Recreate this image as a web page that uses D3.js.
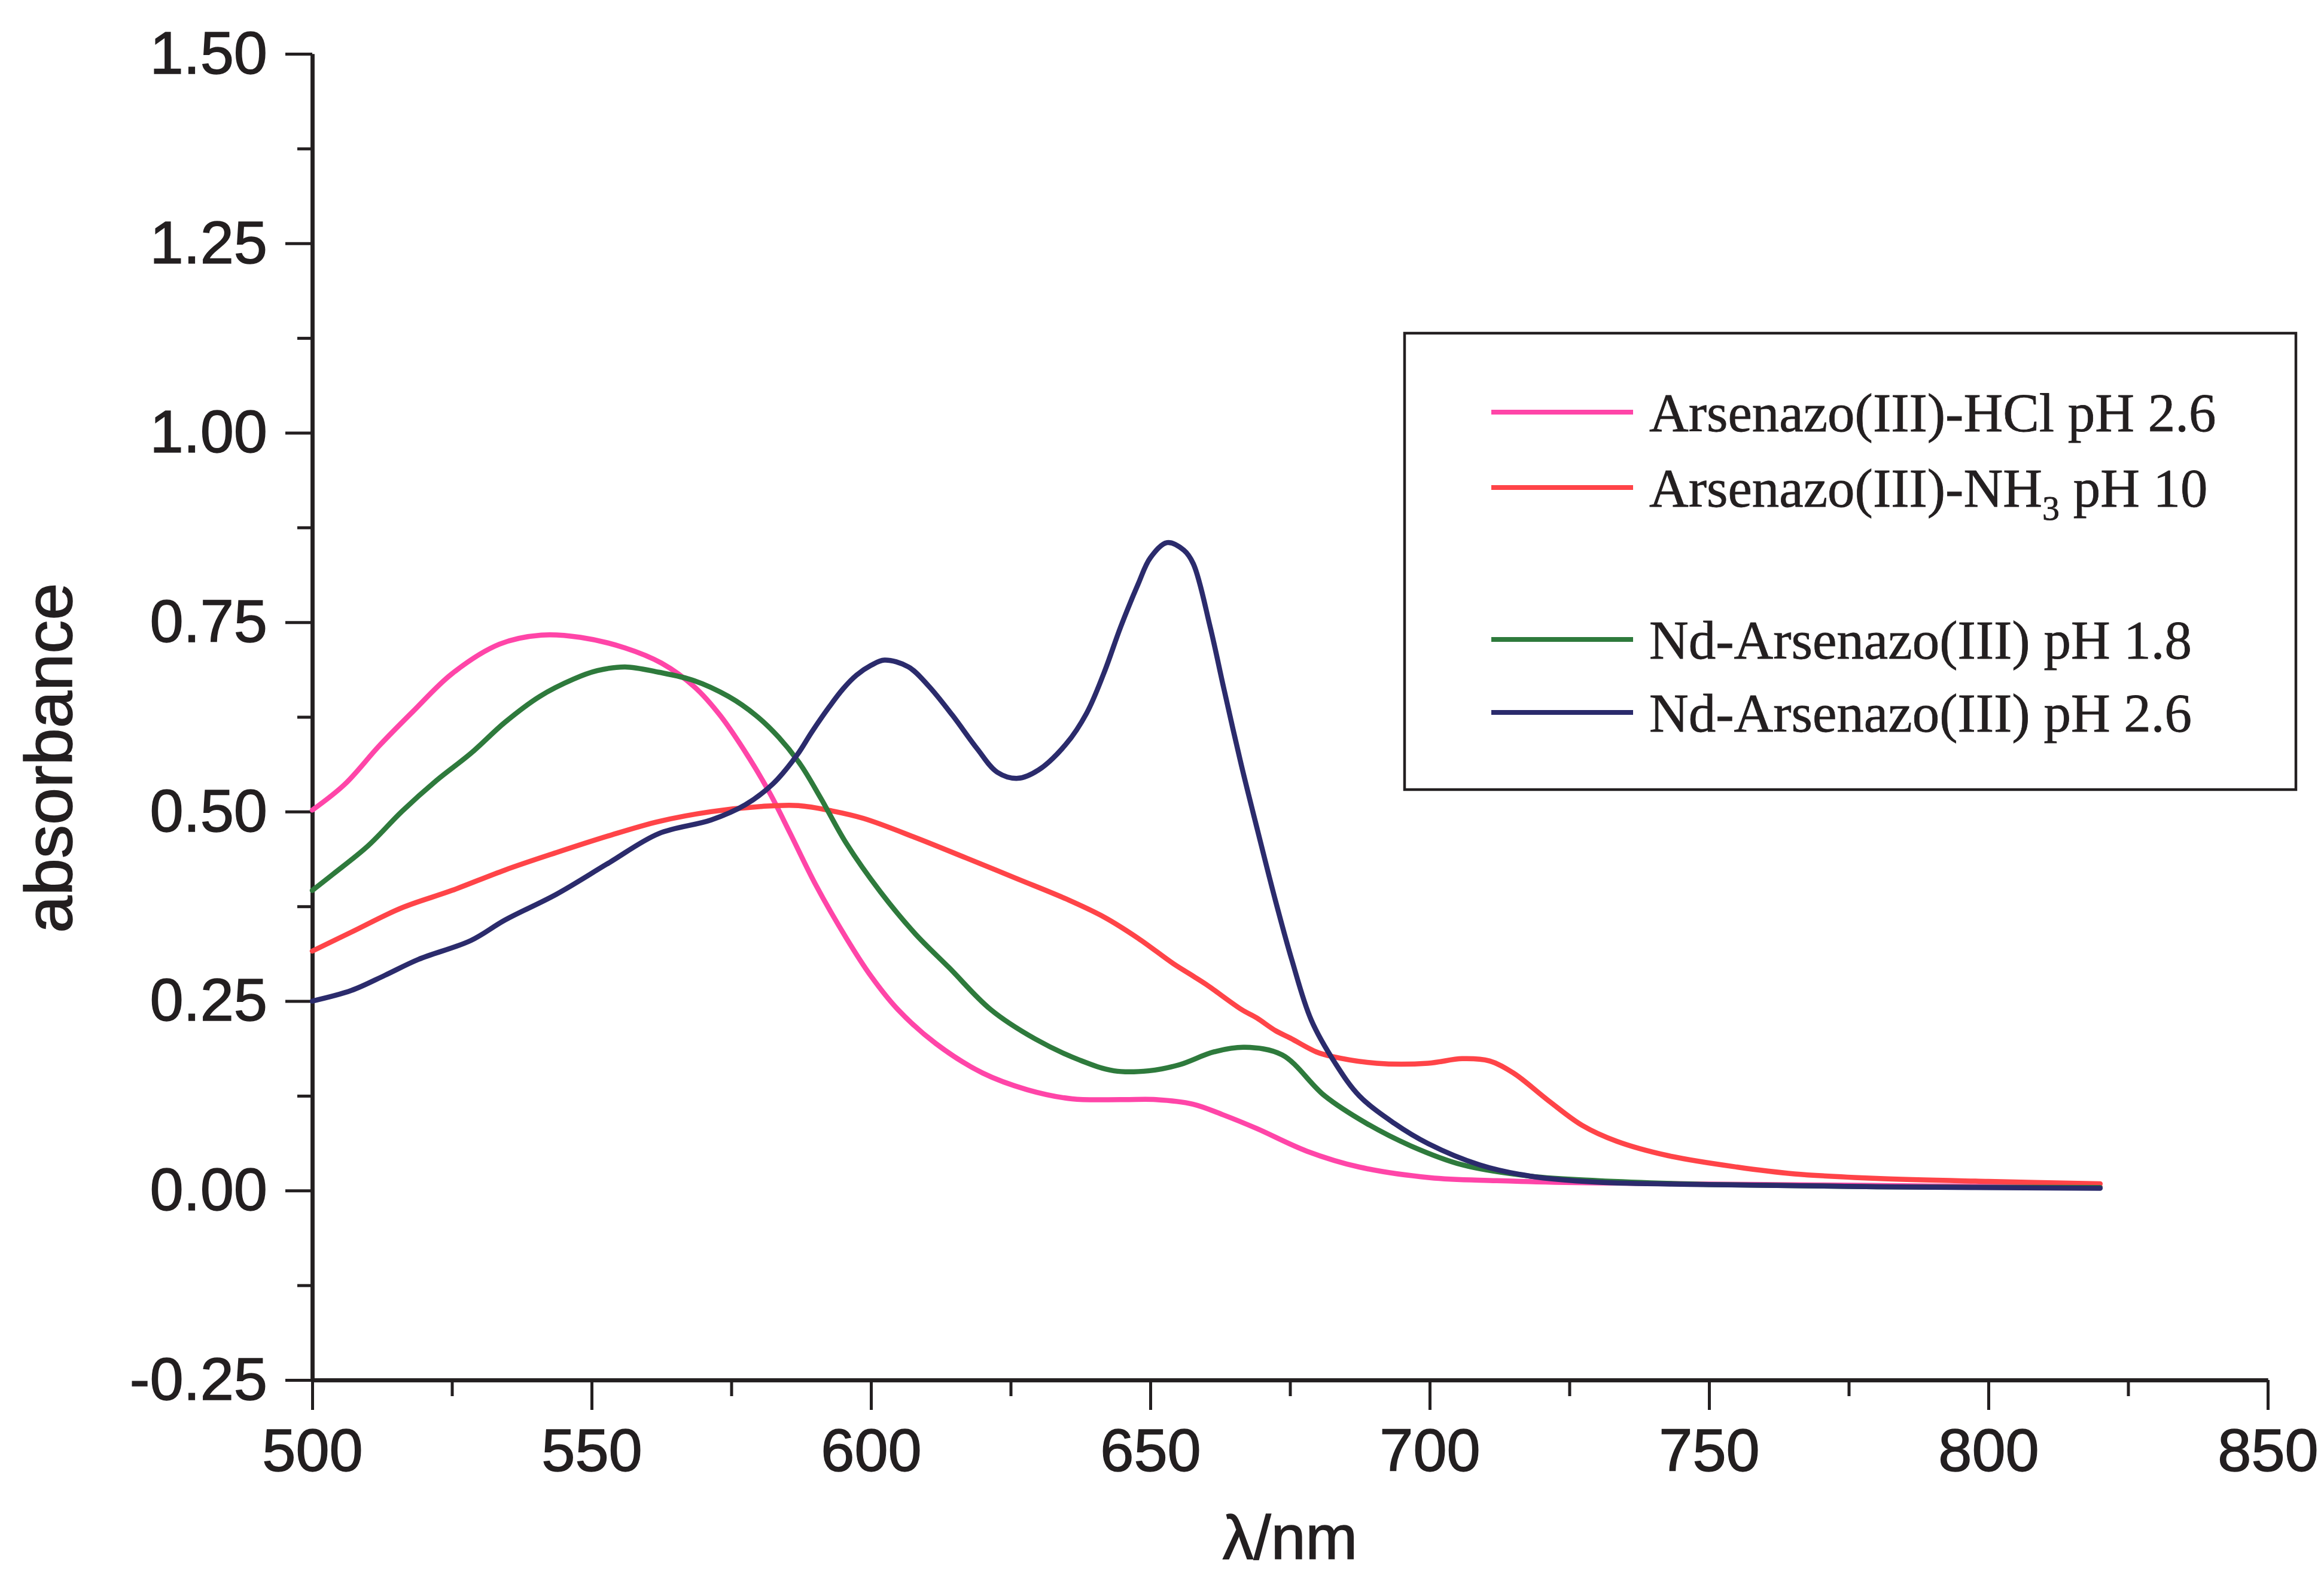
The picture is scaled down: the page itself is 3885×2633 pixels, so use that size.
<!DOCTYPE html>
<html>
<head>
<meta charset="utf-8">
<script src="https://cdn.jsdelivr.net/npm/d3@7"></script>
<style>
  html, body { margin: 0; padding: 0; background: #ffffff; }
  svg { display: block; }
</style>
</head>
<body>
<svg id="chart" width="3885" height="2633"></svg>
<script>
// Absorption spectra: [wavelength (nm), absorbance]
const hclPH26 = [
  [500, 0.502], [505.8, 0.536], [512, 0.587], [518, 0.632], [525, 0.682], [533.5, 0.721],
  [541, 0.733], [548, 0.730], [556, 0.716], [562.5, 0.696], [568.5, 0.664], [573, 0.627],
  [578, 0.573], [582, 0.523], [585.5, 0.472], [590, 0.405], [595.6, 0.333], [600, 0.283],
  [604.8, 0.239], [611.6, 0.194], [620, 0.155], [628, 0.133], [636, 0.121], [645, 0.120],
  [651, 0.120], [657.6, 0.114], [663, 0.100], [669, 0.082], [678, 0.052], [687.4, 0.031],
  [700, 0.017], [712, 0.013], [730, 0.010], [760, 0.008], [790, 0.006], [820, 0.005]
];
const nh3PH10 = [
  [500, 0.316], [507, 0.341], [516, 0.373], [525, 0.396], [534.5, 0.423], [543.7, 0.446],
  [553, 0.468], [562, 0.487], [571.4, 0.500], [580.6, 0.507], [587, 0.508], [593, 0.501],
  [598.7, 0.491], [607.9, 0.466], [617, 0.439], [626.3, 0.411], [635.5, 0.383], [641.7, 0.361],
  [647.8, 0.333], [654, 0.300], [657, 0.286], [660, 0.272], [666.3, 0.239], [669, 0.228],
  [672.4, 0.211], [675.1, 0.201], [679.7, 0.183], [682.5, 0.177], [690.5, 0.168], [699.7, 0.168],
  [705.8, 0.174], [710.7, 0.171], [715, 0.155], [721.2, 0.119], [727.3, 0.086], [733.5, 0.065],
  [742.7, 0.046], [755, 0.031], [765.3, 0.022], [780, 0.016], [800, 0.012], [820, 0.009]
];
const ndPH18 = [
  [500, 0.396], [503.8, 0.418], [510, 0.455], [516, 0.500], [522.2, 0.541], [528.4, 0.577],
  [534.5, 0.618], [540.7, 0.652], [546.8, 0.675], [551, 0.686], [556, 0.691], [562, 0.684],
  [568.3, 0.673], [574.5, 0.652], [579.4, 0.627], [583.5, 0.598], [587.4, 0.562], [591, 0.518],
  [595.6, 0.458], [601.7, 0.394], [607.9, 0.339], [614, 0.294], [621.4, 0.239], [629.4, 0.200],
  [637.4, 0.172], [643.5, 0.158], [649.7, 0.158], [655.2, 0.166], [661.4, 0.183], [666.9, 0.189],
  [673.6, 0.179], [681.2, 0.125], [688.6, 0.089], [696.6, 0.059], [705.8, 0.034], [718, 0.019],
  [730, 0.013], [750, 0.008], [780, 0.005], [820, 0.004]
];
const ndPH26 = [
  [500, 0.250], [507, 0.264], [513, 0.284], [519, 0.305], [528.4, 0.330], [534.5, 0.357],
  [543.7, 0.391], [553, 0.432], [562, 0.471], [571.4, 0.489], [577.5, 0.509], [582.5, 0.537],
  [586.8, 0.575], [589.4, 0.605], [592.5, 0.638], [595, 0.662], [597.4, 0.680], [600, 0.693],
  [602.4, 0.700], [606.7, 0.691], [610.3, 0.666], [614.6, 0.627], [619, 0.583], [622.6, 0.552],
  [626.3, 0.544], [630, 0.555], [634.9, 0.589], [638.6, 0.630], [641.7, 0.683], [644.7, 0.744],
  [647.8, 0.800], [650, 0.835], [653, 0.855], [656, 0.845], [657.7, 0.827], [660.7, 0.744],
  [663.2, 0.661], [666.3, 0.561], [669.2, 0.475], [672.2, 0.388], [675.3, 0.305], [678.8, 0.225],
  [683.1, 0.168], [687.4, 0.125], [693.6, 0.089], [699.7, 0.062], [708.9, 0.034], [718, 0.019],
  [730, 0.011], [749, 0.008], [780, 0.005], [820, 0.003]
];

const seriesNames = [
  "Arsenazo(III)-HCl pH 2.6",
  "Arsenazo(III)-NH3 pH 10",
  "Nd-Arsenazo(III) pH 1.8",
  "Nd-Arsenazo(III) pH 2.6"
];
const seriesData = [hclPH26, nh3PH10, ndPH18, ndPH26];
const seriesColors = ["#ff45a8", "#ff4448", "#2e7a3c", "#2b2b6c"];

const xMajorTicks = [500, 550, 600, 650, 700, 750, 800, 850];
const xMinorTicks = [525, 575, 625, 675, 725, 775, 825];
const yMajorTicks = [-0.25, 0, 0.25, 0.5, 0.75, 1.0, 1.25, 1.5];
const yMinorTicks = [-0.125, 0.125, 0.375, 0.625, 0.875, 1.125, 1.375];

const ink = "#231f20";
const svg = d3.select("#chart");

const x = d3.scaleLinear().domain([500, 850]).range([522, 3791]);
const y = d3.scaleLinear().domain([-0.25, 1.5]).range([2307, 90]);

// Axes
const tickFont = "'Liberation Sans', Arial, sans-serif";
const fmtY = v => d3.format(".2f")(v).replace("\u2212", "-");

const gxMinor = svg.append("g").attr("transform", `translate(0,${y(-0.25)})`)
  .call(d3.axisBottom(x).tickValues(xMinorTicks).tickSize(27).tickSizeOuter(0).tickFormat(""));
const gx = svg.append("g").attr("transform", `translate(0,${y(-0.25)})`)
  .call(d3.axisBottom(x).tickValues(xMajorTicks).tickSize(50).tickSizeOuter(0).tickPadding(30)
    .tickFormat(d3.format("d")));

const gyMinor = svg.append("g").attr("transform", `translate(${x(500)},0)`)
  .call(d3.axisLeft(y).tickValues(yMinorTicks).tickSize(25).tickSizeOuter(0).tickFormat(""));
const gy = svg.append("g").attr("transform", `translate(${x(500)},0)`)
  .call(d3.axisLeft(y).tickValues(yMajorTicks).tickSize(45).tickSizeOuter(0).tickPadding(30)
    .tickFormat(fmtY));

[gx, gy, gxMinor, gyMinor].forEach(g => {
  g.select(".domain").attr("stroke", ink).attr("stroke-width", 6.5);
  g.selectAll(".tick line").attr("stroke", ink).attr("stroke-width", 5);
  g.selectAll(".tick text")
    .attr("fill", ink)
    .attr("stroke", ink)
    .attr("stroke-width", 1.5)
    .style("font-family", tickFont)
    .style("font-size", "101px");
});

// Axis titles
svg.append("text")
  .attr("x", (x(500) + x(850)) / 2)
  .attr("y", 2606)
  .attr("text-anchor", "middle")
  .attr("fill", ink)
  .attr("stroke", ink)
  .attr("stroke-width", 1.5)
  .style("font-family", tickFont)
  .style("font-size", "104px")
  .text("λ/nm");

svg.append("text")
  .attr("transform", "translate(120,1267) rotate(-90)")
  .attr("text-anchor", "middle")
  .attr("fill", ink)
  .attr("stroke", ink)
  .attr("stroke-width", 1.5)
  .style("font-family", tickFont)
  .style("font-size", "112px")
  .text("absorbance");

// Spectra
const line = d3.line()
  .x(d => x(d[0]))
  .y(d => y(d[1]))
  .curve(d3.curveCatmullRom.alpha(0.5));

svg.append("g").selectAll("path")
  .data(seriesData)
  .join("path")
  .attr("d", d => line(d))
  .attr("fill", "none")
  .attr("stroke", (d, i) => seriesColors[i])
  .attr("stroke-width", 8.5)
  .attr("stroke-linejoin", "round")
  .attr("stroke-linecap", "round");

// Legend
const legend = svg.append("g");
legend.append("rect")
  .attr("x", 2348).attr("y", 557)
  .attr("width", 3838 - 2348).attr("height", 1320 - 557)
  .attr("fill", "none").attr("stroke", ink).attr("stroke-width", 4.5);

const legendRowsY = [689, 815, 1069, 1191];
const legendFont = "'Liberation Serif', 'Times New Roman', serif";

seriesNames.forEach((name, i) => {
  const ly = legendRowsY[i];
  legend.append("line")
    .attr("x1", 2493).attr("x2", 2730)
    .attr("y1", ly).attr("y2", ly)
    .attr("stroke", seriesColors[i]).attr("stroke-width", 8);
  const t = legend.append("text")
    .attr("x", 2757).attr("y", ly + 32)
    .attr("fill", ink)
    .attr("stroke", ink)
    .attr("stroke-width", 0.8)
    .style("font-family", legendFont)
    .style("font-size", "91px");
  const sub = name.indexOf("NH3");
  if (sub >= 0) {
    t.append("tspan").text(name.slice(0, sub + 2));
    t.append("tspan").attr("dy", 22).style("font-size", "58px").text("3");
    t.append("tspan").attr("dy", -22).text(name.slice(sub + 3));
  } else {
    t.text(name);
  }
});
</script>
</body>
</html>
